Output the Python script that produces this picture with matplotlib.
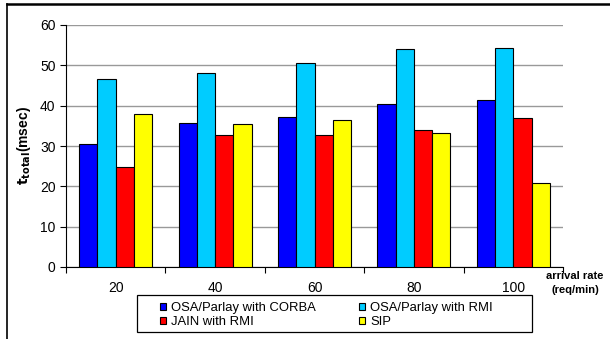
import numpy as np
import matplotlib
matplotlib.use('Agg')
import matplotlib.pyplot as plt
from matplotlib.lines import Line2D
from matplotlib.patches import Rectangle

rates = ['20', '40', '60', '80', '100']
corba = [30.5, 35.7, 37.2, 40.5, 41.5]
osa_rmi = [46.7, 48.1, 50.5, 54.0, 54.3]
jain_rmi = [24.8, 32.8, 32.8, 34.0, 37.0]
sip = [38.0, 35.5, 36.5, 33.3, 20.8]

series = [
    ('OSA/Parlay with CORBA', corba, '#0000ff'),
    ('OSA/Parlay with RMI', osa_rmi, '#00ccff'),
    ('JAIN with RMI', jain_rmi, '#ff0000'),
    ('SIP', sip, '#ffff00'),
]

plt.rcParams['font.family'] = ['Liberation Sans', 'DejaVu Sans']

fig = plt.figure(figsize=(6.10, 3.39), dpi=100)
ax = fig.add_axes([66/610, 1 - 267/339, (563 - 66)/610, (267 - 25)/339])

x = np.arange(len(rates))
w = 0.184
bars = []
for i, (name, vals, col) in enumerate(series):
    b = ax.bar(x + (i - 1.5) * w, vals, w, color=col, edgecolor='black',
               linewidth=0.8, label=name, zorder=3)
    bars.append(b)

ax.set_xlim(-0.5, len(rates) - 0.5)
ax.set_ylim(0, 60)
ax.set_yticks(range(0, 61, 10))
ax.tick_params(axis='y', labelsize=10, length=4, direction='out', width=0.8)
ax.set_xticks(x)
ax.set_xticklabels(rates, fontsize=10)
ax.tick_params(axis='x', which='major', length=0, pad=10)
ax.set_xticks(np.arange(-0.5, len(rates), 1), minor=True)
ax.tick_params(axis='x', which='minor', length=4, direction='out', width=0.8)
ax.yaxis.grid(True, color='#999999', linewidth=1.0, zorder=0)
for s in ['top', 'right']:
    ax.spines[s].set_visible(False)
ax.spines['left'].set_linewidth(0.8)
ax.spines['bottom'].set_linewidth(0.8)

ax.set_ylabel(r'$\mathbf{t}_{\mathbf{total}}$(msec)', fontsize=10,
              fontweight='bold', labelpad=5)

fig.text(575/610, 1 - 276/339, 'arrival rate', fontsize=8,
         fontweight='bold', ha='center', va='center')
fig.text(575/610, 1 - 290/339, '(req/min)', fontsize=8,
         fontweight='bold', ha='center', va='center')

# legend: box drawn separately, two columns placed by hand
fig.add_artist(Rectangle((137/610, 1 - 332/339), (532 - 137)/610, (332 - 295)/339,
                         transform=fig.transFigure, facecolor='white',
                         edgecolor='black', linewidth=0.9))
leg_kw = dict(loc='upper left', fontsize=9.4, frameon=False,
              handlelength=0.45, handleheight=0.45, handletextpad=0.4,
              borderpad=0, labelspacing=0.15, borderaxespad=0)
for cols, x0 in [((0, 2), 160), ((1, 3), 359)]:
    h = [bars[c] for c in cols]
    lab = [series[c][0] for c in cols]
    lg = fig.legend(h, lab, bbox_to_anchor=(x0/610, 1 - 302/339), **leg_kw)
    for p in lg.legend_handles:
        p.set_linewidth(0.8)

# outer frame
fig.add_artist(Line2D([7/610, 7/610], [0, 1 - 4/339], color='black', linewidth=1.2))
fig.add_artist(Line2D([7/610, 1], [1 - 4/339, 1 - 4/339], color='black', linewidth=1.8))

fig.savefig('out.png', dpi=100)
